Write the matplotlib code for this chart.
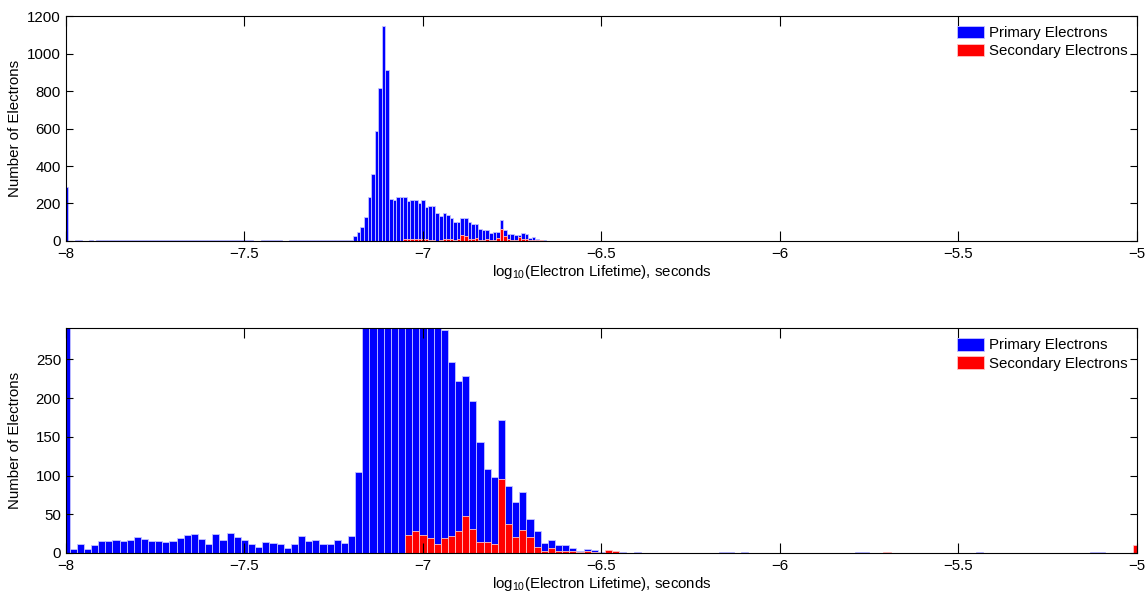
import numpy as np
import matplotlib.pyplot as plt
from matplotlib.patches import Patch

plt.rcParams['font.family'] = ['Liberation Sans', 'DejaVu Sans']
plt.rcParams['mathtext.default'] = 'regular'

# bin centres: fine histogram (0.01) on top, coarse (0.02) below
x_top = np.linspace(-8, -5, 301)
x_bot = np.linspace(-8, -5, 151)

# top panel, primary electrons, bins 0..140 (rest empty)
primary_top = [290,
               2, 1, 3, 3, 2, 1, 3, 2, 4, 4, 3, 4, 5, 4, 4, 4, 5, 4, 5, 6,
               4, 5, 4, 4, 4, 4, 3, 3, 4, 3, 5, 5, 6, 5, 6, 7, 4, 5, 3, 3,
               6, 7, 5, 4, 7, 6, 5, 5, 4, 5, 3, 3, 2, 2, 3, 4, 3, 3, 3, 3,
               1, 2, 3, 3, 5, 6, 4, 4, 5, 4, 3, 3, 3, 3, 4, 5, 3, 3, 6,
               5, 28, 46, 73, 126, 235, 359, 585, 814, 1147, 912,
               224, 220, 233, 233, 235, 215, 220, 218, 204, 220,
               183, 185, 185, 151, 135, 147, 141, 121, 103, 100,
               120, 124, 100, 92, 92, 66, 60, 60, 43, 50,
               50, 112, 57, 39, 36, 30, 30, 43, 36, 18,
               20, 12, 5, 3, 2, 2, 1, 1, 0, 1]
# top panel, secondary electrons starting at bin 95
secondary_top_start = 95
secondary_top = [12, 12, 12, 12, 10, 12, 10, 3, 3, 2,
                 3, 12, 12, 10, 5, 8, 32, 25, 10, 10,
                 18, 5, 5, 9, 5, 5, 18, 66, 27, 9,
                 5, 5, 21, 11, 12, 5, 7, 5, 3, 2, 2]

# bottom panel, primary electrons, bins 0..76
primary_bot = [295,
               5, 12, 5, 10, 16, 15, 17, 16, 17, 21,
               18, 16, 16, 14, 15, 19, 23, 25, 18, 12,
               25, 17, 26, 21, 17, 12, 8, 14, 13, 12,
               6, 12, 22, 16, 17, 12, 12, 17, 13, 22,
               104, 330, 600, 1380, 2060, 1140, 450, 455, 450, 440, 420, 370,
               288, 247, 222, 229, 196, 143, 109, 98, 172, 86,
               66, 79, 44, 29, 13, 17, 10, 10, 7, 3, 5, 4, 1, 2]
primary_bot_tail_bins = [78, 80, 92, 93, 95, 111, 112, 128, 144, 145]
primary_bot_tail = [1, 1, 1, 1, 1, 1, 1, 1, 1, 1]

# bottom panel, secondary electrons starting at bin 48
secondary_bot_start = 48
secondary_bot = [23, 29, 23, 19, 11, 19, 22, 29, 48, 31,
                 14, 14, 12, 96, 38, 20, 30, 21, 8, 3,
                 6, 3, 2, 3, 1, 2, 1, 0, 4]
secondary_bot_tail_bins = [77, 115, 150]
secondary_bot_tail = [2, 1, 10]

tick_vals = [-8, -7.5, -7, -6.5, -6, -5.5, -5]
tick_labels = ['\u22128', '\u22127.5', '\u22127', '\u22126.5', '\u22126', '\u22125.5', '\u22125']

# assemble full-length count arrays
p_top = np.zeros(301)
p_top[:len(primary_top)] = primary_top
s_top = np.zeros(301)
s_top[secondary_top_start:secondary_top_start + len(secondary_top)] = secondary_top

p_bot = np.zeros(151)
p_bot[:len(primary_bot)] = primary_bot
p_bot[primary_bot_tail_bins] = primary_bot_tail
s_bot = np.zeros(151)
s_bot[secondary_bot_start:secondary_bot_start + len(secondary_bot)] = secondary_bot
s_bot[secondary_bot_tail_bins] = secondary_bot_tail

fs = 10.8
fig = plt.figure(figsize=(11.47, 5.95), dpi=100)
ax1 = fig.add_axes([0.0575, 0.595, 0.9337, 0.378])
ax2 = fig.add_axes([0.0575, 0.0706, 0.9337, 0.3776])


def draw(ax, x, prim, sec, width, ylim, yticks):
    m = prim > 0
    ax.bar(x[m], prim[m], width=width, color='#0000ff', edgecolor='#c4c4ff', linewidth=0.6)
    m = sec > 0
    ax.bar(x[m], sec[m], width=width, color='#ff0000', edgecolor='#ffc4c4', linewidth=0.6)
    ax.set_xlim(-8, -5)
    ax.set_ylim(*ylim)
    ax.set_xticks(tick_vals)
    ax.set_xticklabels(tick_labels, fontsize=fs)
    ax.set_yticks(yticks)
    ax.tick_params(axis='y', labelsize=fs)
    ax.tick_params(direction='in', top=True, right=True, width=0.8)
    ax.tick_params(axis='x', length=7, pad=4.5)
    ax.tick_params(axis='y', length=5)
    for s in ax.spines.values():
        s.set_linewidth(0.8)
    ax.set_xlabel('log$_{10}$(Electron Lifetime), seconds', fontsize=fs, labelpad=1)
    ax.set_ylabel('Number of Electrons', fontsize=fs)
    ax.yaxis.set_label_coords(-0.041, 0.5)
    handles = [Patch(facecolor='#0000ff', edgecolor='#c4c4ff', linewidth=0.6),
               Patch(facecolor='#ff0000', edgecolor='#ffc4c4', linewidth=0.6)]
    ax.legend(handles, ['Primary Electrons', 'Secondary Electrons'], loc='upper right',
              frameon=False, fontsize=fs, borderaxespad=0.35, borderpad=0.3,
              labelspacing=0.25, handlelength=1.8, handleheight=0.9, handletextpad=0.3)


draw(ax1, x_top, p_top, s_top, 0.01, (0, 1200), range(0, 1201, 200))
draw(ax2, x_bot, p_bot, s_bot, 0.02, (0, 290), range(0, 251, 50))

fig.savefig('out.png', dpi=100)
